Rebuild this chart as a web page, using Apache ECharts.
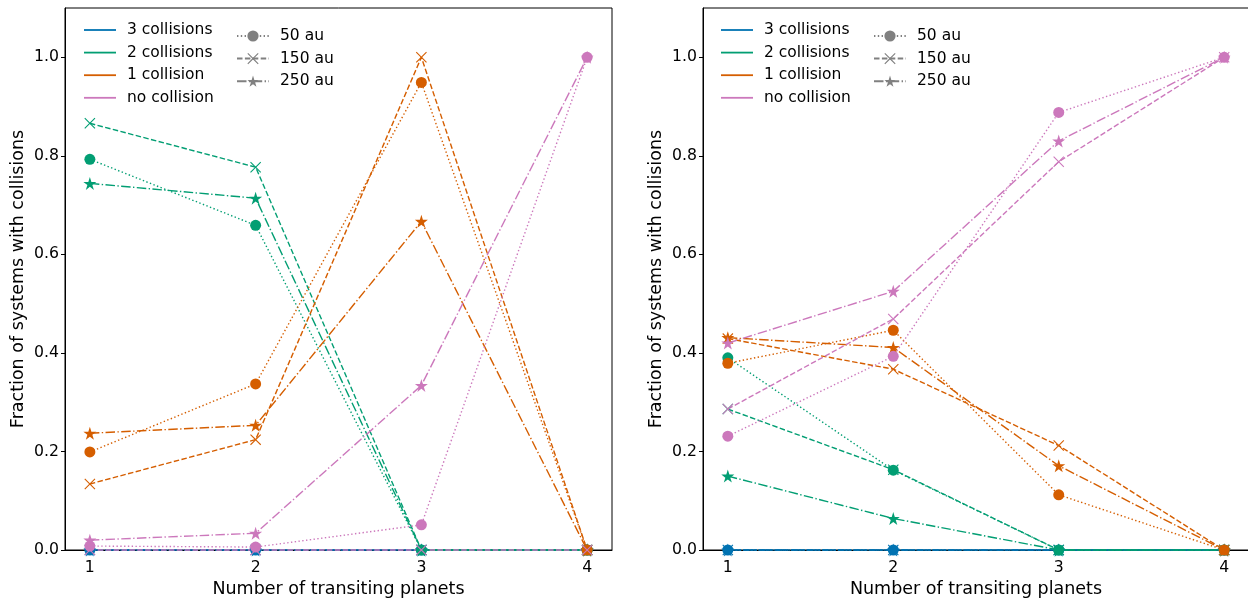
<!DOCTYPE html>
<html>
<head>
<meta charset="utf-8">
<script src="https://cdn.jsdelivr.net/npm/echarts@6/dist/echarts.min.js"></script>
<style>
html,body{margin:0;padding:0;background:#fff;}
#chart{width:1248px;height:598px;}
</style>
</head>
<body>
<div id="chart"></div>
<script>
// ---------- data ----------
const xValues = [1, 2, 3, 4];
const xTicks = [1, 2, 3, 4];
const yTicks = [0, 0.2, 0.4, 0.6, 0.8, 1.0];
const collisionNames = ['3 collisions', '2 collisions', '1 collision', 'no collision'];
const distanceNames = ['50 au', '150 au', '250 au'];
const xTitle = 'Number of transiting planets';
const yTitle = 'Fraction of systems with collisions';

// Left panel: [x=1, x=2, x=3, x=4]
const left3col50 = [0, 0, 0, 0];
const left2col50 = [0.793, 0.659, 0, 0];
const left1col50 = [0.199, 0.337, 0.949, 0];
const left0col50 = [0.008, 0.006, 0.051, 1.0];

const left3col150 = [0, 0, 0, 0];
const left2col150 = [0.866, 0.777, 0, 0];
const left1col150 = [0.134, 0.224, 1.0, 0];
const left0col150 = [0, 0, 0, 0];

const left3col250 = [0, 0, 0, 0];
const left2col250 = [0.744, 0.714, 0, 0];
const left1col250 = [0.237, 0.253, 0.667, 0];
const left0col250 = [0.020, 0.034, 0.334, 1.0];

// Right panel
const right3col50 = [0, 0, 0, 0];
const right2col50 = [0.390, 0.162, 0, 0];
const right1col50 = [0.379, 0.446, 0.112, 0];
const right0col50 = [0.231, 0.393, 0.888, 1.0];

const right3col150 = [0, 0, 0, 0];
const right2col150 = [0.286, 0.163, 0, 0];
const right1col150 = [0.429, 0.367, 0.212, 0];
const right0col150 = [0.286, 0.469, 0.788, 1.0];

const right3col250 = [0, 0, 0, 0];
const right2col250 = [0.150, 0.064, 0, 0];
const right1col250 = [0.431, 0.411, 0.171, 0];
const right0col250 = [0.420, 0.525, 0.830, 1.0];

// ---------- styles ----------
const colors = ['#0173b2', '#029e73', '#d55e00', '#cc78bc'];
const LW = 1.4;
const dashStyles = [[1.4, 2.4], [5.5, 2.4], [9.5, 2.4, 1.4, 2.4]];
const symX = 'path://M0,0.7L0.7,0L5,4.3L9.3,0L10,0.7L5.7,5L10,9.3L9.3,10L5,5.7L0.7,10L0,9.3L4.3,5Z';
const symStar = 'path://M10,0L12.245,6.91L19.511,6.91L13.633,11.18L15.878,18.09L10,13.82L4.122,18.09L6.367,11.18L0.489,6.91L7.755,6.91Z';
const lineIcon = 'path://M0,0L32,0L32,1.8L0,1.8Z';
const symbols = ['circle', symX, symStar];
const symSizes = [11, 11, 13];

const panels = [
  [[left3col50, left2col50, left1col50, left0col50],
   [left3col150, left2col150, left1col150, left0col150],
   [left3col250, left2col250, left1col250, left0col250]],
  [[right3col50, right2col50, right1col50, right0col50],
   [right3col150, right2col150, right1col150, right0col150],
   [right3col250, right2col250, right1col250, right0col250]]
];

const series = [];
panels.forEach((panel, p) => {
  collisionNames.forEach((cn, c) => {
    panel.forEach((group, d) => {
      const vals = group[c];
      series.push({
        type: 'line',
        name: 'p' + p + '-' + distanceNames[d] + '-' + cn,
        xAxisIndex: p, yAxisIndex: p,
        data: xValues.map((x, i) => [x, vals[i]]),
        symbol: symbols[d],
        symbolSize: symSizes[d],
        showAllSymbol: true,
        animation: false,
        silent: true,
        color: colors[c],
        itemStyle: { color: colors[c] },
        lineStyle: { color: colors[c], width: LW, type: dashStyles[d], cap: 'butt' },
        clip: false
      });
    });
  });
});
// legend proxies
collisionNames.forEach((n, c) => {
  series.push({ type: 'line', name: n, xAxisIndex: 0, yAxisIndex: 0, data: [], symbol: 'none',
    color: colors[c], itemStyle: { color: colors[c] }, lineStyle: { color: colors[c], width: 1.8, type: 'solid' } });
});
distanceNames.forEach((n, d) => {
  series.push({ type: 'line', name: n, xAxisIndex: 0, yAxisIndex: 0, data: [], symbol: symbols[d],
    symbolSize: 9, color: '#808080', itemStyle: { color: '#808080' },
    lineStyle: { color: '#808080', width: LW, type: dashStyles[d] } });
});

const font = 'DejaVu Sans';
const grids = [
  { left: 65, top: 8, width: 547, height: 542 },
  { left: 703, top: 8, width: 546, height: 542 }
];

function xAxis(i) {
  return {
    type: 'value', gridIndex: i, min: 0.85, max: 4.15,
    name: xTitle, nameLocation: 'middle', nameGap: 27,
    nameTextStyle: { fontFamily: font, fontSize: 17.5, color: '#000' },
    axisLine: { show: true, onZero: false, lineStyle: { color: '#000', width: 1 } },
    axisTick: { show: true, length: 4, customValues: xTicks, lineStyle: { color: '#000' } },
    axisLabel: { customValues: xTicks, margin: 10, fontFamily: font, fontSize: 15.7, color: '#000',
      formatter: v => String(Math.round(v)) },
    splitLine: { show: false }
  };
}
function yAxis(i) {
  return {
    type: 'value', gridIndex: i, min: 0, max: 1.1,
    name: yTitle, nameLocation: 'middle', nameGap: 38,
    nameTextStyle: { fontFamily: font, fontSize: 17.5, color: '#000' },
    axisLine: { show: true, onZero: false, lineStyle: { color: '#000', width: 1 } },
    axisTick: { show: true, length: 4, customValues: yTicks, lineStyle: { color: '#000' } },
    axisLabel: { customValues: yTicks, margin: 6, fontFamily: font, fontSize: 15.7, color: '#000',
      formatter: v => v.toFixed(1) },
    splitLine: { show: false }
  };
}

function legend(left, top, items) {
  return {
    left: left, top: top, orient: 'vertical', data: items,
    itemWidth: 32, itemHeight: 14, itemGap: 6.6, selectedMode: false,
    textStyle: { fontFamily: font, fontSize: 15.5, color: '#000', padding: [0, 0, 0, 6] }
  };
}
const colorItems = collisionNames.map(n => ({ name: n, icon: lineIcon }));

const option = {
  backgroundColor: '#fff',
  animation: false,
  grid: grids.map(g => Object.assign({ show: true, borderColor: '#000', borderWidth: 1,
    backgroundColor: 'transparent', containLabel: false, outerBoundsMode: 'none' }, g)),
  xAxis: [xAxis(0), xAxis(1)],
  yAxis: [yAxis(0), yAxis(1)],
  legend: [
    legend(79, 17, colorItems),
    legend(231, 23, distanceNames),
    legend(716, 17, colorItems),
    legend(868, 23, distanceNames)
  ],
  series: series
};

const chart = echarts.init(document.getElementById('chart'), null, { renderer: 'canvas' });
chart.setOption(option);
</script>
</body>
</html>
